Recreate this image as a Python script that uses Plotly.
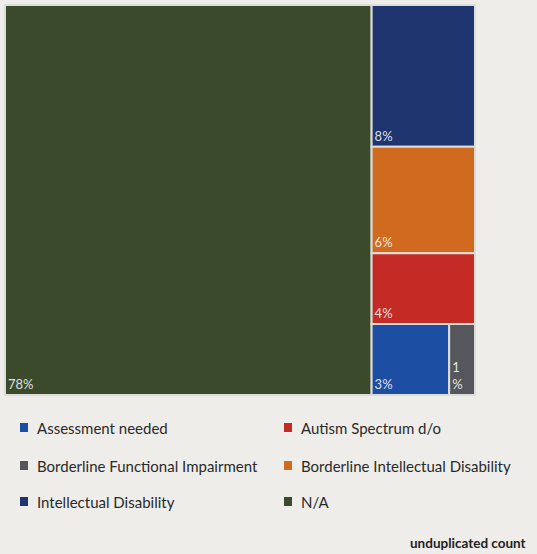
import plotly.graph_objects as go

# Category shares (percent of unduplicated count)
categories = [
    "Assessment needed",
    "Autism Spectrum d/o",
    "Borderline Functional Impairment",
    "Borderline Intellectual Disability",
    "Intellectual Disability",
    "N/A",
]
shares = [3, 4, 1, 6, 8, 78]
colors = ["#1c4ea3", "#c42b24", "#55575c", "#d06a1f", "#1e3570", "#3c4a2c"]

W, H = 537, 554
BG = "#eeede9"

# Narrow tiles stack the number above the percent sign
templates = ["%{value}<br>%" if v < 2 else "%{value}%" for v in shares]

fig = go.Figure(
    go.Treemap(
        labels=categories,
        parents=[""] * len(categories),
        values=shares,
        marker=dict(
            colors=colors,
            line=dict(color="#dcdcd8", width=2),
            pad=dict(t=0, l=0, r=0, b=0),
        ),
        texttemplate=templates,
        textposition="bottom left",
        textfont=dict(family="Lato", size=13, color="rgba(255,255,255,0.85)"),
        sort=True,
        tiling=dict(packing="squarify", squarifyratio=1, pad=0),
        pathbar=dict(visible=False),
        hoverinfo="label+value",
        domain=dict(x=[5 / W, 475 / W], y=[1 - 395 / H, 1 - 5 / H]),
    )
)

# Two-column legend built from the category list
shapes, annotations = [], []
col_x = [20, 284]
row_y = [428, 466, 502]
for i, (name, col) in enumerate(zip(categories, colors)):
    cx = col_x[i % 2]
    cy = row_y[i // 2]
    shapes.append(dict(
        type="rect", xref="paper", yref="paper",
        x0=cx / W, x1=(cx + 8) / W,
        y0=1 - (cy + 4) / H, y1=1 - (cy - 5) / H,
        fillcolor=col, line=dict(width=0),
    ))
    annotations.append(dict(
        x=(cx + 15) / W, y=1 - cy / H, xref="paper", yref="paper",
        text=name, showarrow=False, xanchor="left", yanchor="middle",
        font=dict(family="Lato", size=15, color="#2a2a2a"),
    ))

annotations.append(dict(
    x=528 / W, y=1 - 543 / H, xref="paper", yref="paper",
    text="<b>unduplicated count</b>", showarrow=False, xanchor="right", yanchor="middle",
    font=dict(family="Lato", size=13.5, color="#222222"),
))

fig.update_layout(
    width=W, height=H,
    margin=dict(l=0, r=0, t=0, b=0),
    paper_bgcolor=BG, plot_bgcolor=BG,
    shapes=shapes, annotations=annotations,
    showlegend=False,
)

fig.write_html("out.html")
